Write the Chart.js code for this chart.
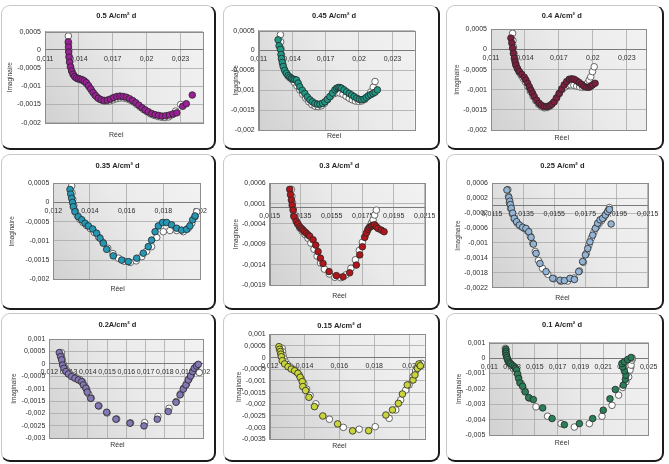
<!DOCTYPE html>
<html>
<head>
<meta charset="utf-8">
<script src="https://cdn.jsdelivr.net/npm/chart.js@4"></script>
<style>
  body { margin: 0; background: #fff; width: 669px; height: 464px; position: relative; overflow: hidden; }
  .panel {
    position: absolute; box-sizing: border-box;
    border: 1px solid #c8c8c8; border-right: 2px solid #1c1c1c; border-bottom: 2px solid #1c1c1c;
    border-radius: 9px; background: #fff; overflow: hidden;
  }
  .panel canvas { position: absolute; left: 0; top: 0; }
</style>
</head>
<body>
<script>
// ---- data (Réel, Imaginaire) ----
const titles = ['0.5 A/cm² d', '0.45 A/cm² d', '0.4 A/cm² d', '0.35 A/cm² d', '0.3 A/cm² d',
  '0.25 A/cm² d', '0.2A/cm² d', '0.15 A/cm² d', '0.1 A/cm² d'];

const mes05 = [[0.01306,0.00022],[0.01308,0.00008],[0.0131,-0.00006],[0.01313,-0.0002],[0.01318,-0.00034],[0.01326,-0.00047],[0.01336,-0.00058],[0.01348,-0.00067],[0.01362,-0.00073],[0.01378,-0.00077],[0.01395,-0.00079],[0.01412,-0.0008],[0.0143,-0.00082],[0.01448,-0.00085],[0.01466,-0.0009],[0.01485,-0.00098],[0.01505,-0.00107],[0.01526,-0.00117],[0.01548,-0.00126],[0.01572,-0.00133],[0.01598,-0.00137],[0.01625,-0.00139],[0.01652,-0.00138],[0.0168,-0.00135],[0.01708,-0.00131],[0.01736,-0.00128],[0.01764,-0.00127],[0.01792,-0.00128],[0.0182,-0.0013],[0.01848,-0.00134],[0.01876,-0.00139],[0.01904,-0.00145],[0.01932,-0.00152],[0.0196,-0.00159],[0.01988,-0.00165],[0.02016,-0.0017],[0.02046,-0.00175],[0.02076,-0.00178],[0.02106,-0.0018],[0.02138,-0.00182],[0.0217,-0.00181],[0.02202,-0.00179],[0.02235,-0.00176],[0.02268,-0.00173],[0.0232,-0.00155],[0.02352,-0.00148],[0.02405,-0.00124]];
const fit05 = [[0.01307,0.00038],[0.01309,0.00018],[0.01311,0],[0.01314,-0.00017],[0.01319,-0.00032],[0.01327,-0.00046],[0.01338,-0.00058],[0.01352,-0.00068],[0.01368,-0.00075],[0.01386,-0.00079],[0.01405,-0.00081],[0.01425,-0.00083],[0.01446,-0.00087],[0.01468,-0.00093],[0.0149,-0.00102],[0.01513,-0.00112],[0.01537,-0.00122],[0.01562,-0.0013],[0.01588,-0.00136],[0.01616,-0.0014],[0.01645,-0.00141],[0.01674,-0.0014],[0.01704,-0.00137],[0.01734,-0.00134],[0.01764,-0.00132],[0.01794,-0.00132],[0.01824,-0.00134],[0.01854,-0.00138],[0.01884,-0.00143],[0.01914,-0.0015],[0.01944,-0.00157],[0.01974,-0.00164],[0.02004,-0.0017],[0.02036,-0.00176],[0.02068,-0.0018],[0.021,-0.00183],[0.02132,-0.00185],[0.02164,-0.00186],[0.02196,-0.00184],[0.02228,-0.00178],[0.02258,-0.00168],[0.02302,-0.0015]];

const mes045 = [[0.01274,0.00027],[0.01283,0.00012],[0.01295,0.00003],[0.013,-0.0001],[0.01304,-0.0002],[0.01312,-0.0003],[0.0132,-0.0004],[0.01334,-0.0005],[0.01349,-0.00057],[0.01365,-0.00063],[0.0138,-0.00067],[0.01394,-0.0007],[0.01408,-0.00072],[0.01424,-0.00073],[0.01439,-0.00074],[0.01454,-0.00082],[0.01469,-0.00091],[0.01491,-0.001],[0.01514,-0.00108],[0.01537,-0.00117],[0.0156,-0.00124],[0.01582,-0.00129],[0.01604,-0.00133],[0.01627,-0.00135],[0.0165,-0.00135],[0.01672,-0.00133],[0.01694,-0.00129],[0.01716,-0.00123],[0.01739,-0.00116],[0.01762,-0.00107],[0.01784,-0.00099],[0.01799,-0.00095],[0.01814,-0.00093],[0.01829,-0.00093],[0.01844,-0.00095],[0.01866,-0.00099],[0.01889,-0.00104],[0.01912,-0.00108],[0.01934,-0.00112],[0.01957,-0.00116],[0.0198,-0.0012],[0.02002,-0.00123],[0.02024,-0.00124],[0.02045,-0.00122],[0.02065,-0.00118],[0.02085,-0.00114],[0.02105,-0.00111],[0.02125,-0.00108],[0.02144,-0.00105],[0.02165,-0.00099]];
const fit045 = [[0.01295,0.0004],[0.01297,0.00022],[0.013,0.00005],[0.01304,-0.0001],[0.0131,-0.00024],[0.01318,-0.00036],[0.0133,-0.00047],[0.01344,-0.00056],[0.0136,-0.00063],[0.01378,-0.00068],[0.01398,-0.00073],[0.0142,-0.0008],[0.01444,-0.00089],[0.01469,-0.00099],[0.01495,-0.0011],[0.01522,-0.0012],[0.0155,-0.00129],[0.01578,-0.00136],[0.01606,-0.0014],[0.01634,-0.00141],[0.01662,-0.00139],[0.0169,-0.00133],[0.01718,-0.00124],[0.01745,-0.00115],[0.01772,-0.00109],[0.018,-0.00106],[0.01828,-0.00107],[0.01856,-0.0011],[0.01884,-0.00115],[0.01912,-0.0012],[0.0194,-0.00124],[0.01968,-0.00127],[0.01996,-0.00128],[0.02024,-0.00127],[0.02052,-0.00123],[0.0208,-0.00115],[0.02106,-0.00104],[0.02128,-0.00092],[0.02144,-0.00078]];

const mes04 = [[0.01276,0.00028],[0.01284,0.00016],[0.01291,0.00003],[0.01298,-0.0001],[0.01306,-0.00022],[0.01313,-0.00031],[0.0132,-0.00039],[0.01335,-0.00048],[0.0135,-0.00055],[0.01372,-0.00062],[0.01394,-0.00069],[0.01409,-0.00076],[0.01424,-0.00084],[0.01439,-0.00093],[0.01453,-0.00101],[0.01468,-0.00109],[0.01482,-0.00117],[0.01504,-0.00126],[0.01526,-0.00134],[0.01548,-0.00139],[0.01571,-0.00142],[0.01593,-0.00142],[0.01615,-0.0014],[0.01637,-0.00136],[0.01659,-0.0013],[0.01681,-0.0012],[0.01703,-0.00109],[0.01725,-0.00098],[0.01747,-0.00088],[0.01769,-0.0008],[0.01791,-0.00074],[0.01813,-0.00073],[0.01835,-0.00074],[0.01857,-0.00078],[0.01879,-0.00082],[0.01902,-0.00087],[0.01924,-0.00092],[0.01946,-0.00094],[0.01968,-0.00094],[0.01983,-0.00091],[0.01997,-0.00088],[0.0202,-0.00084]];
const fit04 = [[0.01291,0.0004],[0.01294,0.00022],[0.01298,0.00006],[0.01303,-0.0001],[0.0131,-0.00024],[0.0132,-0.00036],[0.01333,-0.00047],[0.01348,-0.00056],[0.01366,-0.00064],[0.01385,-0.00072],[0.01405,-0.00081],[0.01426,-0.00092],[0.01448,-0.00104],[0.01471,-0.00116],[0.01495,-0.00127],[0.0152,-0.00136],[0.01546,-0.00142],[0.01572,-0.00145],[0.01598,-0.00144],[0.01624,-0.0014],[0.0165,-0.00132],[0.01676,-0.00121],[0.01702,-0.0011],[0.01728,-0.001],[0.01754,-0.00093],[0.0178,-0.00089],[0.01806,-0.00088],[0.01832,-0.00089],[0.01858,-0.00091],[0.01884,-0.00093],[0.0191,-0.00094],[0.01934,-0.00091],[0.01953,-0.00084],[0.01968,-0.00076],[0.01982,-0.00068],[0.01997,-0.00055],[0.02012,-0.00043]];

const mes035 = [[0.01291,0.00034],[0.01295,0.00022],[0.013,0.00011],[0.01305,0],[0.01309,-0.00011],[0.01318,-0.00024],[0.01336,-0.00037],[0.01355,-0.00045],[0.01373,-0.00054],[0.01391,-0.00061],[0.01415,-0.00069],[0.01436,-0.0008],[0.01455,-0.00093],[0.01473,-0.00106],[0.01491,-0.00122],[0.01527,-0.00139],[0.01573,-0.0015],[0.01609,-0.00154],[0.01655,-0.00145],[0.01691,-0.00132],[0.01718,-0.00115],[0.01736,-0.00098],[0.01755,-0.00076],[0.01773,-0.00061],[0.01796,-0.00052],[0.01818,-0.00052],[0.01845,-0.00058],[0.01873,-0.00067],[0.019,-0.00072],[0.01927,-0.0007],[0.01945,-0.00061],[0.0196,-0.00045],[0.01973,-0.00035]];
const fit035 = [[0.013,0.00043],[0.01302,0.00025],[0.01306,0.00008],[0.01312,-0.00008],[0.0132,-0.00022],[0.01331,-0.00034],[0.01345,-0.00044],[0.01362,-0.00052],[0.01381,-0.0006],[0.01402,-0.00068],[0.01424,-0.00078],[0.01447,-0.0009],[0.01471,-0.00104],[0.01497,-0.00119],[0.01525,-0.00133],[0.01555,-0.00145],[0.01587,-0.00153],[0.0162,-0.00156],[0.01652,-0.00152],[0.01682,-0.00141],[0.01709,-0.00127],[0.01736,-0.00115],[0.01764,-0.00091],[0.018,-0.00076],[0.01836,-0.00073],[0.01873,-0.00073],[0.01909,-0.00076],[0.01936,-0.00067],[0.01955,-0.00054],[0.01973,-0.00037],[0.01982,-0.00024]];

const mes03 = [[0.01279,0.00045],[0.01284,0.00032],[0.0129,0.00019],[0.01295,0.00006],[0.01301,-0.00006],[0.01307,-0.00022],[0.01322,-0.00034],[0.01333,-0.0004],[0.01344,-0.00047],[0.01355,-0.00051],[0.01365,-0.00055],[0.01376,-0.00059],[0.01387,-0.00063],[0.01398,-0.00067],[0.01408,-0.0007],[0.0143,-0.00079],[0.01447,-0.00092],[0.01462,-0.00108],[0.01477,-0.00124],[0.01494,-0.00137],[0.01533,-0.00157],[0.0158,-0.00167],[0.01623,-0.0017],[0.01666,-0.0016],[0.01709,-0.00141],[0.01731,-0.00116],[0.01748,-0.00096],[0.01763,-0.00073],[0.01774,-0.00062],[0.01784,-0.00053],[0.01795,-0.00048],[0.01806,-0.00045],[0.01817,-0.00043],[0.01827,-0.00042],[0.01838,-0.00047],[0.01849,-0.00051],[0.0187,-0.00055],[0.01888,-0.00059]];
const fit03 = [[0.0129,0.00045],[0.01293,0.00028],[0.01297,0.00012],[0.01302,-0.00003],[0.01309,-0.00017],[0.01318,-0.0003],[0.0133,-0.00041],[0.01344,-0.0005],[0.0136,-0.00058],[0.01378,-0.00066],[0.01397,-0.00075],[0.01416,-0.00087],[0.01436,-0.00102],[0.01456,-0.00119],[0.01478,-0.00136],[0.01503,-0.00151],[0.01535,-0.00163],[0.0157,-0.00171],[0.01607,-0.00172],[0.01642,-0.00165],[0.01674,-0.00149],[0.01703,-0.00128],[0.01728,-0.00105],[0.01748,-0.00085],[0.01765,-0.0007],[0.0178,-0.00058],[0.01795,-0.00047],[0.01806,-0.00038],[0.01817,-0.0003],[0.01827,-0.00018],[0.01838,-0.00006]];

const mes025 = [[0.01246,0.00042],[0.01258,0.00022],[0.01264,0.00012],[0.01268,0.00003],[0.01274,-0.00007],[0.01283,-0.0002],[0.01293,-0.00034],[0.01308,-0.00043],[0.01326,-0.00052],[0.01347,-0.00058],[0.01368,-0.00061],[0.01386,-0.0007],[0.01401,-0.00085],[0.01416,-0.00103],[0.01433,-0.00128],[0.01458,-0.00155],[0.01497,-0.00177],[0.0154,-0.00195],[0.01587,-0.002],[0.01615,-0.00201],[0.01651,-0.00195],[0.01679,-0.00198],[0.01707,-0.00177],[0.01732,-0.0015],[0.0175,-0.00132],[0.01765,-0.00115],[0.01779,-0.00097],[0.01797,-0.00079],[0.01814,-0.00061],[0.01829,-0.00047],[0.01844,-0.00038],[0.01861,-0.00034],[0.01878,-0.00025],[0.01893,-0.00016],[0.01904,-0.0001],[0.01915,-0.00049]];
const fit025 = [[0.01252,0.00043],[0.01256,0.00025],[0.01262,0.00008],[0.0127,-0.00008],[0.0128,-0.00022],[0.01294,-0.00036],[0.01312,-0.00047],[0.01333,-0.00055],[0.01356,-0.00061],[0.01378,-0.00068],[0.01396,-0.00082],[0.01412,-0.00101],[0.01428,-0.00123],[0.01448,-0.00147],[0.01474,-0.00168],[0.01508,-0.00184],[0.01548,-0.00196],[0.01592,-0.00203],[0.01636,-0.00202],[0.01677,-0.00194],[0.01712,-0.00175],[0.01737,-0.00152],[0.01756,-0.00128],[0.01772,-0.00106],[0.01788,-0.00087],[0.01805,-0.0007],[0.01822,-0.00057],[0.01838,-0.00048],[0.01854,-0.0004],[0.01868,-0.00032],[0.01882,-0.00023],[0.01895,-0.00014],[0.01904,-0.00005]];

const mes02 = [[0.01252,0.00045],[0.01259,0.00029],[0.01264,0.00016],[0.01269,-0.00005],[0.01276,-0.00018],[0.01287,-0.00031],[0.01299,-0.00041],[0.01316,-0.00051],[0.01333,-0.00058],[0.01351,-0.00065],[0.01368,-0.00072],[0.01377,-0.00085],[0.0139,-0.00098],[0.01397,-0.00114],[0.01415,-0.00139],[0.01455,-0.00169],[0.01498,-0.00195],[0.01546,-0.00223],[0.01619,-0.00239],[0.01692,-0.0025],[0.01761,-0.00223],[0.01818,-0.00192],[0.01858,-0.00155],[0.01879,-0.00125],[0.01896,-0.00102],[0.0191,-0.00085],[0.01922,-0.00065],[0.01934,-0.00049],[0.01945,-0.00031],[0.01953,-0.00018],[0.01965,-0.00009],[0.01974,-0.00002]];
const fit02 = [[0.01263,0.00045],[0.01263,0.00032],[0.01267,0.00018],[0.01272,0],[0.0128,-0.00015],[0.01291,-0.00028],[0.01305,-0.00039],[0.01322,-0.00048],[0.0134,-0.00056],[0.01358,-0.00063],[0.01372,-0.00072],[0.01384,-0.00088],[0.01394,-0.00103],[0.01405,-0.00122],[0.01418,-0.00138],[0.01458,-0.0017],[0.015,-0.00198],[0.0155,-0.00222],[0.01622,-0.00238],[0.01695,-0.00237],[0.01764,-0.00212],[0.01822,-0.00179],[0.0186,-0.00152],[0.01882,-0.00121],[0.01898,-0.00098],[0.01913,-0.0008],[0.01926,-0.00061],[0.01938,-0.00045],[0.01949,-0.00028],[0.01958,-0.00016],[0.01968,-0.00006],[0.01979,-0.00035]];

const mes015 = [[0.01253,0.00047],[0.01257,0.00036],[0.01261,0.00026],[0.01264,0.00015],[0.01267,0.00004],[0.01272,-0.00013],[0.01286,-0.00027],[0.01305,-0.00039],[0.01324,-0.00049],[0.01343,-0.00056],[0.01362,-0.00067],[0.01375,-0.00084],[0.01387,-0.00103],[0.0139,-0.00124],[0.01406,-0.00141],[0.01425,-0.0017],[0.01457,-0.0021],[0.01505,-0.0025],[0.0159,-0.00284],[0.01676,-0.00314],[0.01768,-0.00313],[0.01867,-0.00246],[0.01905,-0.00224],[0.01939,-0.00196],[0.01962,-0.00156],[0.0199,-0.00117],[0.02023,-0.00096],[0.02034,-0.00074],[0.02048,-0.00046],[0.02057,-0.00027],[0.02065,-0.00035]];
const fit015 = [[0.01272,0.0004],[0.01274,0.00025],[0.01277,0.0001],[0.01282,-0.00005],[0.0129,-0.00018],[0.01302,-0.0003],[0.01318,-0.0004],[0.01336,-0.0005],[0.01354,-0.00061],[0.0137,-0.00075],[0.01383,-0.00092],[0.01396,-0.00112],[0.01412,-0.00135],[0.01432,-0.00162],[0.01465,-0.00198],[0.01543,-0.00264],[0.01623,-0.00299],[0.01714,-0.00307],[0.01806,-0.00296],[0.01886,-0.0026],[0.01924,-0.00224],[0.01952,-0.00181],[0.01981,-0.00139],[0.02,-0.00117],[0.02023,-0.00081],[0.02038,-0.00057],[0.02057,-0.00039],[0.02068,-0.00031],[0.02076,-0.00031],[0.02072,-0.00025]];

const mes01 = [[0.01246,0.00057],[0.01246,0.00043],[0.01246,0.0003],[0.0125,0.00017],[0.01255,0.00004],[0.01262,-0.0001],[0.0127,-0.00024],[0.0128,-0.00032],[0.0129,-0.00039],[0.01305,-0.00048],[0.0132,-0.00057],[0.0133,-0.00067],[0.0134,-0.00078],[0.01349,-0.00104],[0.01358,-0.00133],[0.01369,-0.00161],[0.01393,-0.00183],[0.01416,-0.0022],[0.01446,-0.00257],[0.01487,-0.0027],[0.01569,-0.00324],[0.01651,-0.00393],[0.01759,-0.00433],[0.01891,-0.00426],[0.02008,-0.00393],[0.02101,-0.00339],[0.0216,-0.00265],[0.02207,-0.00204],[0.02277,-0.00176],[0.02295,-0.00139],[0.023,-0.00111],[0.02286,-0.00083],[0.02271,-0.00057],[0.02265,-0.00035],[0.02286,-0.00024],[0.02315,-0.0001],[0.02345,0.00004]];
const fit01 = [[0.01241,0.00063],[0.01243,0.00045],[0.01247,0.00025],[0.01253,0.00005],[0.01262,-0.00015],[0.01275,-0.00033],[0.01292,-0.0005],[0.01312,-0.00068],[0.01334,-0.00092],[0.01356,-0.00125],[0.0138,-0.00165],[0.01408,-0.0021],[0.0145,-0.0026],[0.0151,-0.00317],[0.01612,-0.00378],[0.0173,-0.00426],[0.01847,-0.00448],[0.01979,-0.00426],[0.0209,-0.00378],[0.02178,-0.00307],[0.02236,-0.00241],[0.02271,-0.00191],[0.023,-0.00154],[0.02324,-0.00122],[0.02336,-0.00078],[0.02345,-0.00046],[0.02353,-0.00013],[0.02355,0]];

// tick values
const xTicksA = [0.011, 0.014, 0.017, 0.02, 0.023];
const xTicksB = [0.012, 0.014, 0.016, 0.018, 0.02];
const xTicksC = [0.0115, 0.0135, 0.0155, 0.0175, 0.0195, 0.0215];
const xTicksD = [0.012, 0.013, 0.014, 0.015, 0.016, 0.017, 0.018, 0.019, 0.02];
const xTicksE = [0.011, 0.013, 0.015, 0.017, 0.019, 0.021, 0.023, 0.025];
const yTicksA = [0.0005, 0, -0.0005, -0.001, -0.0015, -0.002];
const yTicksB = [0.0006, 0.0001, -0.0004, -0.0009, -0.0014, -0.0019];
const yTicksC = [0.0006, 0.0002, -0.0002, -0.0006, -0.001, -0.0014, -0.0018, -0.0022];
const yTicksD = [0.001, 0.0005, 0, -0.0005, -0.001, -0.0015, -0.002, -0.0025, -0.003];
const yTicksE = [0.001, 0.0005, 0, -0.0005, -0.001, -0.0015, -0.002, -0.0025, -0.003, -0.0035];
const yTicksF = [0.001, 0, -0.001, -0.002, -0.003, -0.004, -0.005];

// ---- layout of the 3x3 grid (page pixels) ----
const panels = [
  { title: titles[0], mes: mes05, fit: fit05, color: '#9a2096', xt: xTicksA, xmax: 0.025, yt: yTicksA,
    box: [1, 5, 216, 150], area: [45, 31.7, 203, 122.7], tY: 16, rY: 135, iX: 10 },
  { title: titles[1], mes: mes045, fit: fit045, color: '#1f9886', xt: xTicksA, xmax: 0.025, yt: yTicksA,
    box: [223, 5, 440, 150], area: [258.7, 30.7, 414.7, 130], tY: 16, rY: 136.5, iX: 236 },
  { title: titles[2], mes: mes04, fit: fit04, color: '#7c1f3e', xt: xTicksA, xmax: 0.0247, yt: yTicksA,
    box: [446, 5, 664, 150], area: [491, 29.3, 646, 130], tY: 16, rY: 138, iX: 457 },
  { title: titles[3], mes: mes035, fit: fit035, color: '#2497b5', xt: xTicksB, xmax: 0.02, yt: yTicksA,
    box: [1, 154, 216, 310], area: [53.3, 183.3, 200, 279.3], tY: 166, rY: 289, iX: 12.7 },
  { title: titles[4], mes: mes03, fit: fit03, color: '#b0171c', xt: xTicksC, xmax: 0.0215, yt: yTicksB,
    box: [223, 154, 440, 310], area: [269.7, 183.3, 424.7, 285], tY: 166, rY: 296.5, iX: 236.3 },
  { title: titles[5], mes: mes025, fit: fit025, color: '#93b4d4', xt: xTicksC, xmax: 0.0215, yt: yTicksC,
    box: [446, 154, 664, 310], area: [492, 183.3, 647.7, 287.7], tY: 166, rY: 298, iX: 458.7 },
  { title: titles[6], mes: mes02, fit: fit02, color: '#8576b4', xt: xTicksD, xmax: 0.02, yt: yTicksD,
    box: [1, 313, 216, 462], area: [49.3, 339, 203.3, 438.3], tY: 325, rY: 445.5, iX: 14 },
  { title: titles[7], mes: mes015, fit: fit015, color: '#cad43c', xt: xTicksB, xmax: 0.0209, yt: yTicksE,
    box: [223, 313, 440, 462], area: [269.7, 334.3, 424.7, 439.3], tY: 326, rY: 446.5, iX: 239 },
  { title: titles[8], mes: mes01, fit: fit01, color: '#2a7f58', xt: xTicksE, xmax: 0.025, yt: yTicksF,
    box: [446, 313, 664, 462], area: [489.3, 342.7, 648.7, 435], tY: 325, rY: 443.3, iX: 459.3 }
];

const FONT = '"Liberation Sans", Arial, sans-serif';
const fmt = v => String(+Number(v).toPrecision(6)).replace('.', ',');

// grey gradient plot area with a thin frame, Excel style
const plotArea = {
  id: 'plotArea',
  beforeDraw(chart) {
    const { ctx, chartArea: a } = chart;
    const g = ctx.createLinearGradient(a.left, a.bottom, a.right, a.top);
    g.addColorStop(0, '#d1d1d1');
    g.addColorStop(0.55, '#eaeaea');
    g.addColorStop(1, '#f2f2f2');
    ctx.save();
    ctx.fillStyle = g;
    ctx.fillRect(a.left, a.top, a.right - a.left, a.bottom - a.top);
    ctx.restore();
  },
  afterDraw(chart) {
    const { ctx, chartArea: a } = chart;
    ctx.save();
    ctx.strokeStyle = '#8c8c8c';
    ctx.lineWidth = 1;
    ctx.strokeRect(Math.round(a.left) + 0.5, Math.round(a.top) + 0.5,
      Math.round(a.right - a.left), Math.round(a.bottom - a.top));
    ctx.restore();
  }
};

// chart title and x-axis name, centred between panel centre and plot centre
const panelText = {
  id: 'panelText',
  afterDraw(chart, args, o) {
    const ctx = chart.ctx;
    ctx.save();
    ctx.textAlign = 'center';
    ctx.textBaseline = 'middle';
    ctx.fillStyle = '#262626';
    ctx.font = 'bold 7.5px ' + FONT;
    ctx.fillText(o.title, o.cx, o.tc);
    ctx.fillStyle = '#333';
    ctx.font = '7px ' + FONT;
    ctx.fillText('Réel', o.cx, o.rc);
    ctx.restore();
  }
};

function makeChart(p) {
  const [bx, by, bx2, by2] = p.box;
  const div = document.createElement('div');
  div.className = 'panel';
  div.style.left = bx + 'px';
  div.style.top = by + 'px';
  div.style.width = (bx2 - bx) + 'px';
  div.style.height = (by2 - by) + 'px';
  document.body.appendChild(div);

  const W = bx2 - bx - 3, H = by2 - by - 3;
  const ox = bx + 1, oy = by + 1;
  const L = p.area[0] - ox, T = p.area[1] - oy, R = p.area[2] - ox, B = p.area[3] - oy;
  const cx = ((bx + bx2) / 2 + (p.area[0] + p.area[2]) / 2) / 2 - ox;

  const cv = document.createElement('canvas');
  cv.width = W; cv.height = H;
  cv.style.width = W + 'px'; cv.style.height = H + 'px';
  div.appendChild(cv);

  const yLH = 6.5 * 1.2;

  new Chart(cv, {
    type: 'scatter',
    data: {
      datasets: [
        { data: p.mes.map(([x, y]) => ({ x, y })), backgroundColor: p.color, borderColor: '#262626',
          borderWidth: 0.8, pointRadius: 3.3 },
        { data: p.fit.map(([x, y]) => ({ x, y })), backgroundColor: '#ffffff', borderColor: '#444',
          borderWidth: 0.8, pointRadius: 3.3 }
      ]
    },
    options: {
      responsive: false,
      animation: false,
      devicePixelRatio: 1,
      layout: { padding: { left: 0, top: T, right: W - R, bottom: H - B } },
      plugins: {
        legend: { display: false },
        tooltip: { enabled: false },
        panelText: { title: p.title, cx: cx, tc: p.tY - oy, rc: p.rY - oy }
      },
      scales: {
        x: {
          type: 'linear',
          position: { y: 0 },
          min: p.xt[0], max: p.xmax,
          afterBuildTicks: axis => { axis.ticks = p.xt.map(v => ({ value: v })); },
          grid: { color: '#a9a9a9', lineWidth: 0.8, drawTicks: true, tickLength: 2 },
          border: { display: true, color: '#7a7a7a', width: 1 },
          ticks: {
            callback: fmt, autoSkip: false, maxRotation: 0, minRotation: 0, padding: 2.5,
            color: '#2e2e2e', font: { family: FONT, size: 7 }
          }
        },
        y: {
          type: 'linear',
          position: 'left',
          min: p.yt[p.yt.length - 1], max: p.yt[0],
          afterBuildTicks: axis => { axis.ticks = p.yt.map(v => ({ value: v })); },
          afterFit: scale => { scale.width = L; },
          grid: { color: '#a9a9a9', lineWidth: 0.8, drawTicks: false },
          border: { display: true, color: '#8c8c8c', width: 1 },
          title: {
            display: true, text: 'Imaginaire', color: '#3a3a3a',
            font: { family: FONT, size: 6.5 },
            padding: { top: Math.max(0, p.iX - ox - yLH / 2), bottom: 0 }
          },
          ticks: {
            callback: fmt, autoSkip: false, padding: 4,
            color: '#2e2e2e', font: { family: FONT, size: 7 }
          }
        }
      }
    },
    plugins: [plotArea, panelText]
  });
}

panels.forEach(makeChart);
</script>
</body>
</html>
